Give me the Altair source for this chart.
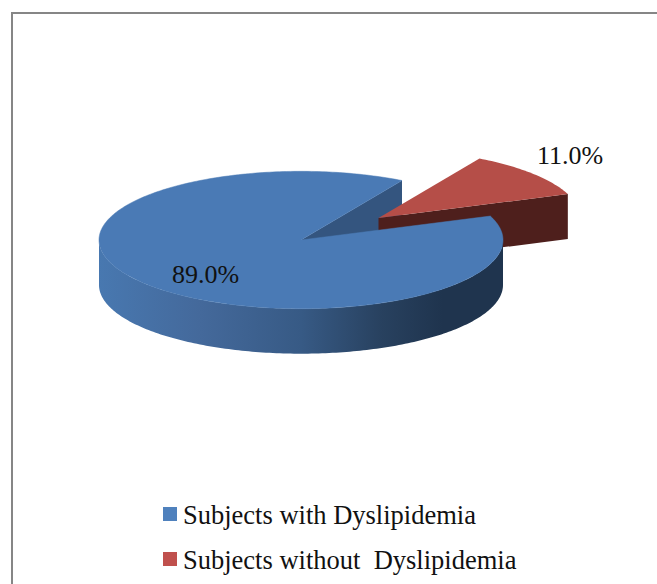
import math
import altair as alt
import pandas as pd

# Pie shares in percent and their legend names
categories = ["Subjects with Dyslipidemia", "Subjects without \u00a0Dyslipidemia"]
shares = [89.0, 11.0]

WIDTH, HEIGHT = 657, 584
RADIUS = 202
TILT = 0.34
DEPTH = 45
START_DEG = 60
SERIF = "Liberation Serif"
INK = "#111111"

blue_center = (301, 240)
red_center = (378.5, 218)

blue_deg = shares[0] * 3.6
red_deg = shares[1] * 3.6


def rim(center, deg, drop=0):
    rad = math.radians(deg)
    return [center[0] + RADIUS * math.cos(rad), center[1] - RADIUS * TILT * math.sin(rad) + drop]


def sweep(center, start, end, drop=0, step=1.0):
    count = max(2, int(abs(end - start) / step) + 1)
    return [rim(center, start + (end - start) * i / (count - 1), drop) for i in range(count)]


def shape(ring, fill, edge=None):
    closed = ring + [ring[0]]
    style = {"stroke": edge, "strokeWidth": 0.5, "strokeJoin": "round"} if edge else {}
    return (
        alt.Chart(alt.Data(values=[{
            "type": "Feature",
            "properties": {},
            "geometry": {"type": "Polygon", "coordinates": [closed]},
        }]))
        .mark_geoshape(fill=fill, filled=True, **style)
        .project(type="identity", scale=1, translate=[0, 0])
    )


# Angles of the slices, anticlockwise from the +x direction
blue_start, blue_end = START_DEG, START_DEG + blue_deg
red_start, red_end = blue_end - 360, blue_end - 360 + red_deg

# Cut face of the large slice, seen through the gap
inner = [list(blue_center), rim(blue_center, blue_start),
         rim(blue_center, blue_start, DEPTH), [blue_center[0], blue_center[1] + DEPTH]]

# Exploded slice: cut face and top
red_wall = [list(red_center), rim(red_center, red_start),
            rim(red_center, red_start, DEPTH), [red_center[0], red_center[1] + DEPTH]]
red_top = [list(red_center)] + sweep(red_center, red_start, red_end)

# Large slice: curved front wall and top
front = sweep(blue_center, 180, 360) + sweep(blue_center, 360, 180, DEPTH)
blue_top = [list(blue_center)] + sweep(blue_center, blue_start, blue_end)

wall_shade = alt.Gradient(
    gradient="linear", x1=0, x2=1, y1=0, y2=0,
    stops=[
        alt.GradientStop(offset=0.0, color="#4878b0"),
        alt.GradientStop(offset=0.25, color="#44699b"),
        alt.GradientStop(offset=0.5, color="#375a85"),
        alt.GradientStop(offset=0.7, color="#28415f"),
        alt.GradientStop(offset=0.85, color="#1f344e"),
        alt.GradientStop(offset=1.0, color="#1f344e"),
    ],
)

# Percentage labels
label_table = pd.DataFrame({
    "text": [f"{v:.1f}%" for v in shares],
    "px": [205.5, 570],
    "py": [275, 156],
})
labels = alt.Chart(label_table).mark_text(
    font=SERIF, fontSize=26, color=INK, align="center", baseline="middle"
).encode(
    x=alt.X("px:Q", scale=alt.Scale(domain=[0, WIDTH]), axis=None),
    y=alt.Y("py:Q", scale=alt.Scale(domain=[HEIGHT, 0]), axis=None),
    text="text:N",
)

# Legend rows
legend_table = pd.DataFrame({
    "name": categories,
    "row": [514, 559],
    "swatch": ["#4f81bd", "#c0504d"],
})
legend_swatches = alt.Chart(legend_table).mark_square(size=196, opacity=1, filled=True).encode(
    x=alt.value(170),
    y=alt.Y("row:Q", scale=alt.Scale(domain=[HEIGHT, 0]), axis=None),
    color=alt.Color("swatch:N", scale=None, legend=None),
)
legend_text = alt.Chart(legend_table).mark_text(
    font=SERIF, fontSize=26.5, color=INK, align="left", baseline="middle", dy=2
).encode(
    x=alt.value(183),
    y=alt.Y("row:Q", scale=alt.Scale(domain=[HEIGHT, 0]), axis=None),
    text="name:N",
)

# Frame: left and top sides only reach the page edge
frame_top = alt.Chart(pd.DataFrame({"k": [0]})).mark_rule(color="#868686", strokeWidth=2).encode(
    x=alt.value(11), x2=alt.value(WIDTH), y=alt.value(13))
frame_left = alt.Chart(pd.DataFrame({"k": [0]})).mark_rule(color="#868686", strokeWidth=2).encode(
    x=alt.value(12), y=alt.value(12), y2=alt.value(HEIGHT))

chart = alt.layer(
    frame_top,
    frame_left,
    shape(inner, "#34557f"),
    shape(red_wall, "#4e1f1c"),
    shape(red_top, "#b54e48"),
    shape(front, wall_shade),
    shape(blue_top, "#4a7ab5", edge="#4a7ab5"),
    labels,
    legend_swatches,
    legend_text,
).properties(
    width=WIDTH,
    height=HEIGHT,
    padding=0,
    autosize=alt.AutoSizeParams(type="none"),
    background="white",
).configure_view(stroke=None)

chart.save("out.html", embed_options={"renderer": "svg", "actions": False})
